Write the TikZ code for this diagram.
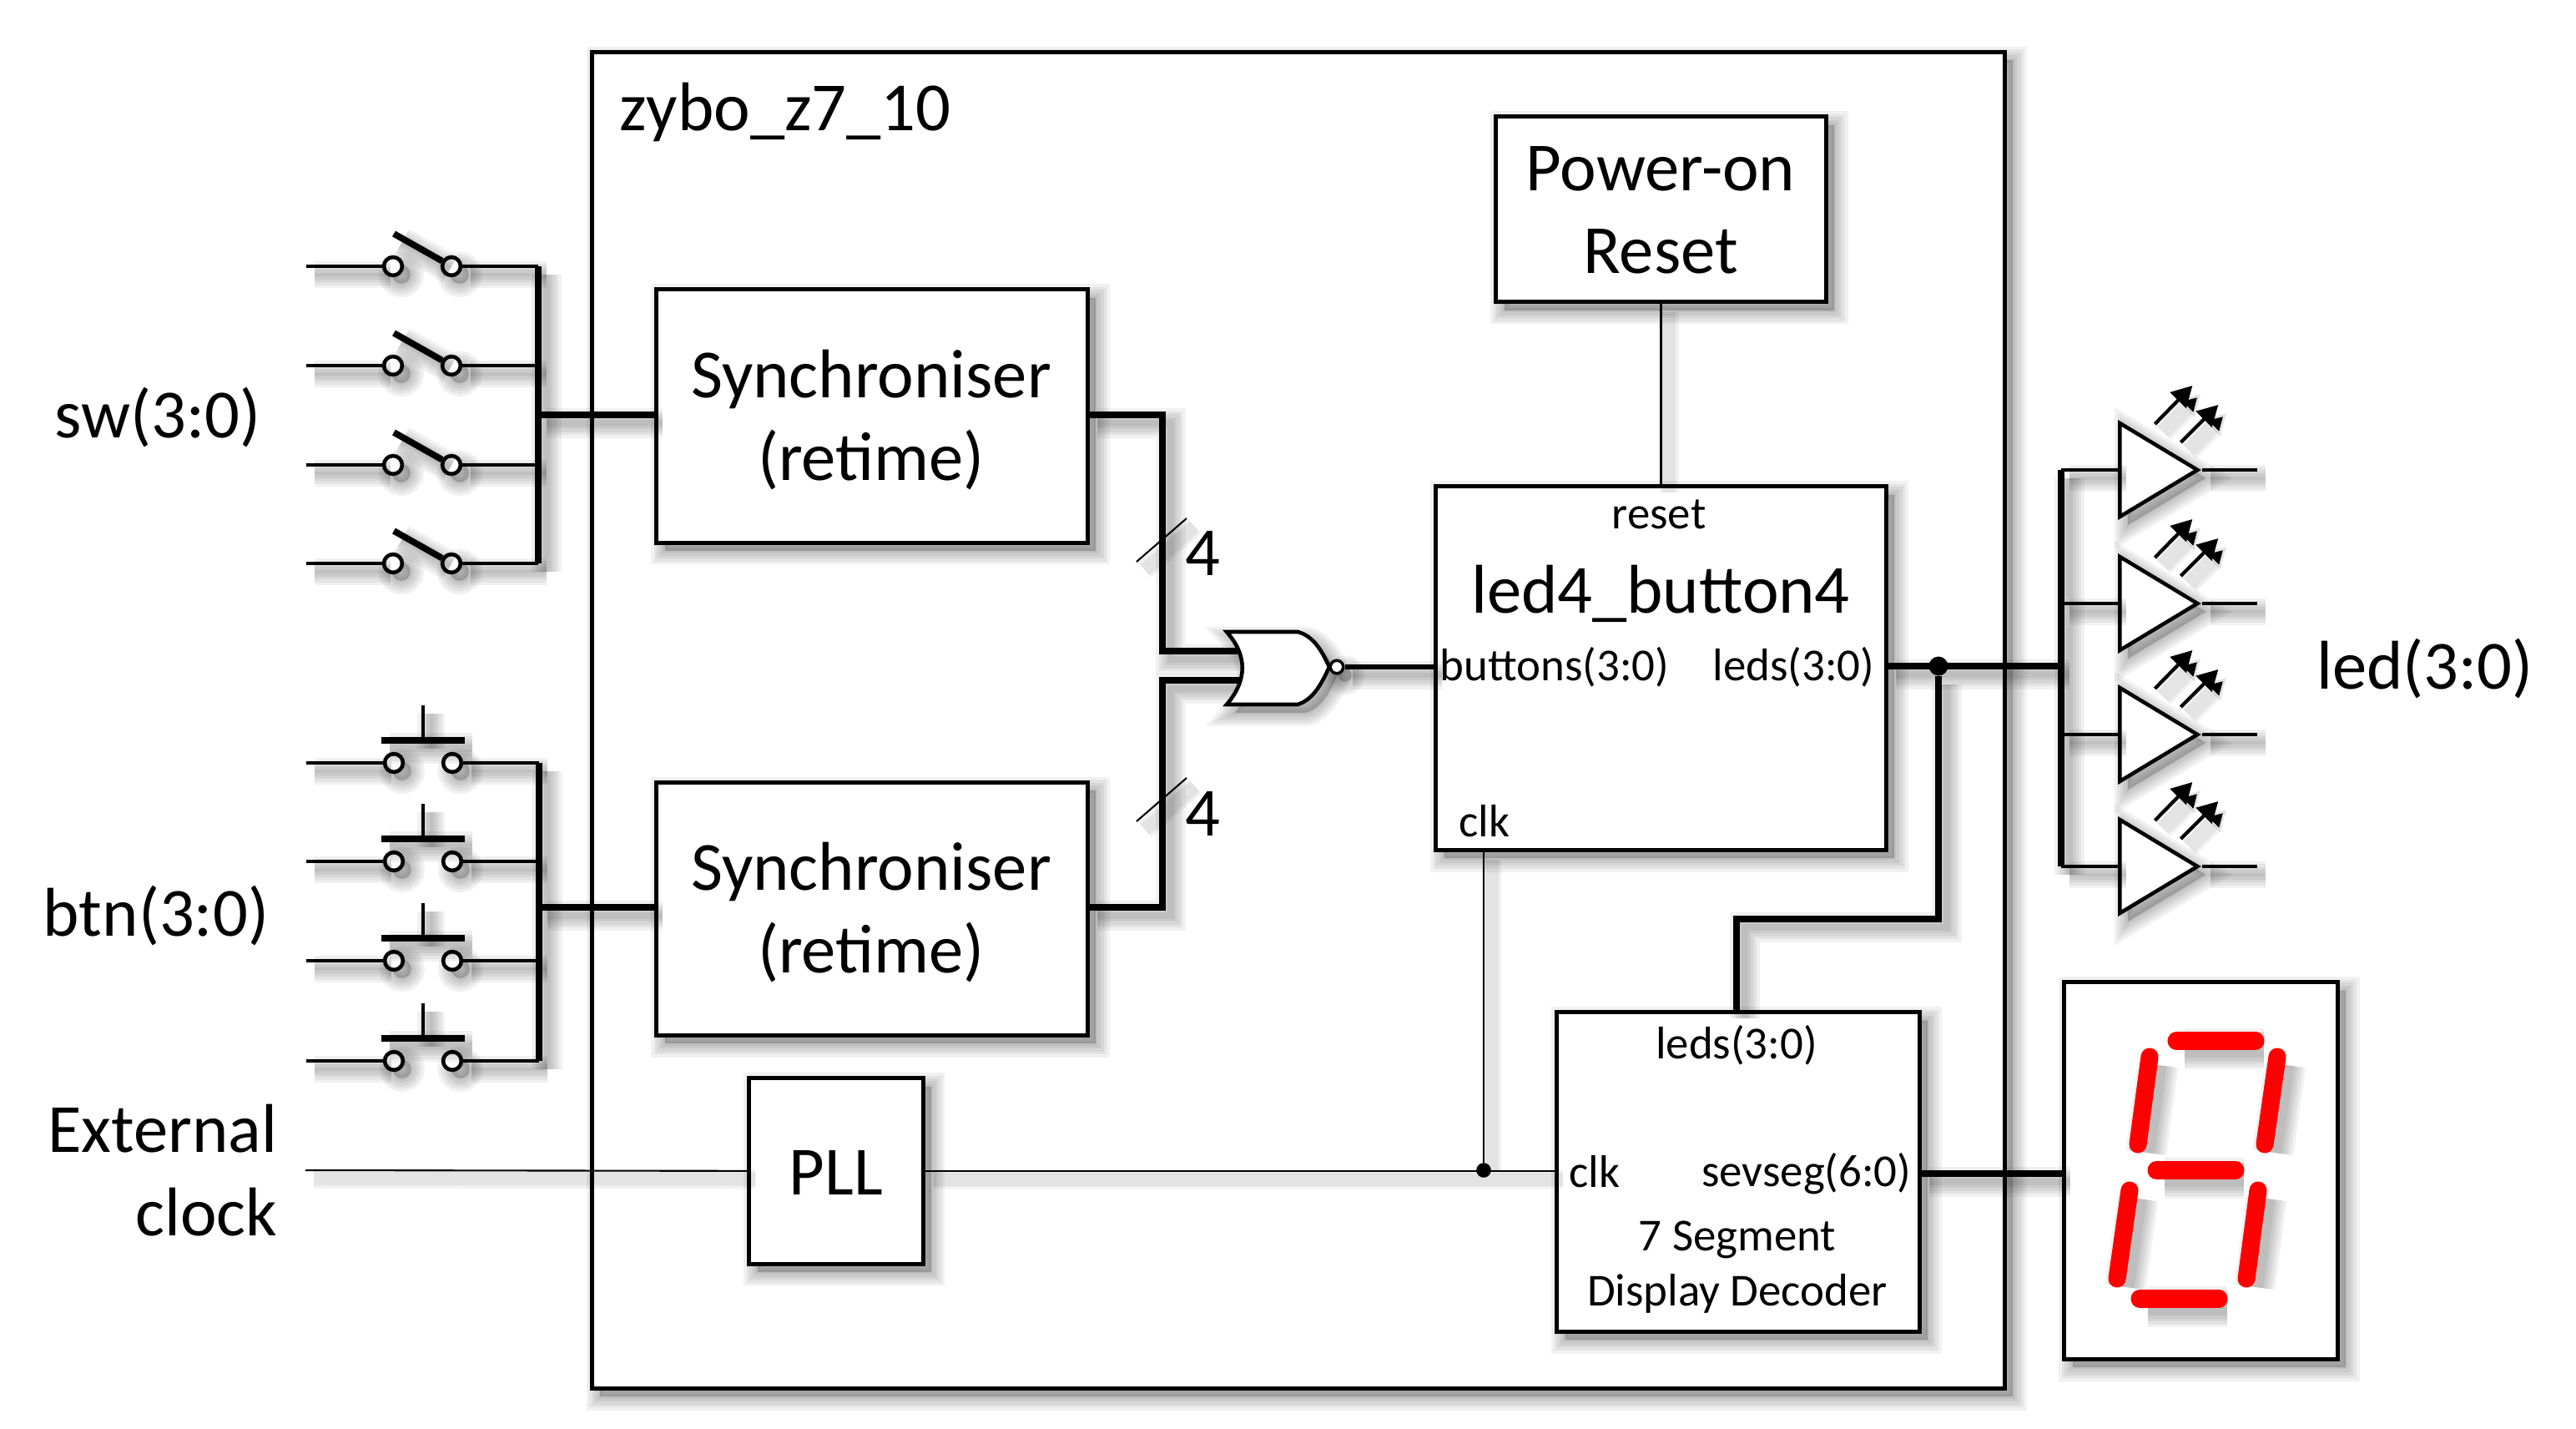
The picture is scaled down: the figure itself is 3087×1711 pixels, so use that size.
\documentclass[tikz,border=0pt]{standalone}
\usepackage{fontspec}
\setmainfont{Carlito}
\usepackage{tikz}
\usetikzlibrary{shapes.geometric,arrows.meta,positioning}

\tikzset{
    shadowlayer/.style={preaction={draw=black, draw opacity=.055, line width=\pgflinewidth+#1, transform canvas={shift={(2.8pt,-2.8pt)}}}},
    softshadow/.style={shadowlayer=4pt, shadowlayer=3pt, shadowlayer=2pt, shadowlayer=1pt, shadowlayer=0pt},
    faintshadow/.style={shadowlayer=3pt, shadowlayer=2pt},
    boxshadow/.style={
        preaction={fill=black, fill opacity=.2, transform canvas={shift={(2.8pt,-2.8pt)}}},
        softshadow
    }
}

\begin{document}
\begin{tikzpicture}[
    x=0.01cm, y=-0.01cm,
    bigtext/.style={font=\fontsize{23.5}{28.2}\selectfont, align=center, inner sep=0pt},
    smalltext/.style={font=\fontsize{15.6}{18.8}\selectfont, align=center, inner sep=0pt},
    block/.style={rectangle, draw, fill=white, line width=1.4pt, boxshadow},
    contact/.style={circle, draw, fill=white, line width=1.3pt, minimum size=6.2pt, inner sep=0pt, boxshadow},
    ledtri/.style={isosceles triangle, isosceles triangle stretches, shape border rotate=0, draw, fill=white,
        line width=1.3pt, minimum width=1.12cm, minimum height=.93cm, inner sep=0pt, anchor=lower side, boxshadow},
    wire/.style={draw, line width=1.3pt, softshadow},
    bus/.style={draw, line width=2.1pt, softshadow},
    thinwire/.style={draw, line width=.6pt, faintshadow},
    lever/.style={draw, line width=2.2pt, softshadow},
    ray/.style={draw, line width=1.2pt, faintshadow, -{Triangle[length=7pt,width=7.5pt]}},
    segment/.style={draw=red, line width=6pt, line cap=round, softshadow},
    junction/.style={circle, fill=black, minimum size=5pt, inner sep=0pt}
]
    \useasboundingbox (0,0) rectangle (3087,1711);

    % board outline and blocks
    \node [block, minimum width=16.92cm, minimum height=16.00cm] (board) at (1556,863) {};
    \node [bigtext, anchor=west] (boardname) at (742,134) {zybo\_z7\_10};
    \node [block, minimum width=5.16cm, minimum height=3.03cm] (sync1) at (1045,498.5) {};
    \node [block, minimum width=5.16cm, minimum height=3.03cm, below=2.82cm of sync1] (sync2) {};
    \node [block, minimum width=5.39cm, minimum height=4.35cm] (led4) at (1990.5,800.5) {};
    \node [block, minimum width=3.95cm, minimum height=2.22cm, above=2.16cm of led4] (por) {};
    \node [block, minimum width=2.08cm, minimum height=2.22cm] (pll) at (1002,1403) {};
    \node [block, minimum width=4.34cm, minimum height=3.82cm] (decoder) at (2083,1404) {};
    \node [block, minimum width=3.27cm, minimum height=4.51cm] (display) at (2637.5,1402.5) {};

    % labels on the blocks
    \node [bigtext] (sync1name) at (1044,503) {Synchroniser\\(retime)};
    \node [bigtext] (sync2name) at (1044,1093) {Synchroniser\\(retime)};
    \node [bigtext] (porname) at (1990,252) {Power-on\\Reset};
    \node [bigtext] (pllname) at (1002,1405) {PLL};
    \node [bigtext] (led4name) at (1990,711) {led4\_button4};
    \node [smalltext] (led4reset) at (1988,616) {reset};
    \node [smalltext, anchor=west] (led4btn) at (1725,799) {buttons(3:0)};
    \node [smalltext, anchor=east] (led4leds) at (2247,799) {leds(3:0)};
    \node [smalltext, anchor=west] (led4clk) at (1748,984) {clk};
    \node [smalltext] (decleds) at (2081,1252) {leds(3:0)};
    \node [smalltext, anchor=west] (decclk) at (1880,1404) {clk};
    \node [smalltext, anchor=east] (decseg) at (2291,1406) {sevseg(6:0)};
    \node [smalltext] (decname) at (2082,1518) {7 Segment\\Display Decoder};

    % outside labels
    \node [bigtext] (swname) at (189,500) {sw(3:0)};
    \node [bigtext] (btnname) at (187,1097) {btn(3:0)};
    \node [bigtext, align=right, anchor=east] (clkname) at (333,1402) {External\\clock};
    \node [bigtext] (ledname) at (2906,801) {led(3:0)};
    \node [bigtext] (width1) at (1441,663) {4};
    \node [bigtext] (width2) at (1441,975) {4};

    % slide switches
    \coordinate (swbustop) at (645,319);
    \coordinate (swbusbot) at (645,675);
    \foreach \n/\y in {1/319,2/438,3/557,4/675} {
        \coordinate (swin\n) at (367,\y);
        \coordinate (swtap\n) at (645,\y);
        \node [contact] (swa\n) at (471,\y) {};
        \node [contact] (swb\n) at (541,\y) {};
        \draw [wire] (swin\n) -- (swa\n);
        \draw [wire] (swb\n) -- (swtap\n);
        \draw [lever] (swb\n) -- ++(-69,-39);
    }
    \draw [bus] (swbustop) -- (swbusbot);
    \coordinate (swmid) at (645,497);
    \draw [bus] (swmid) -- (sync1.west |- swmid);

    % push buttons
    \coordinate (btnbustop) at (646,914);
    \coordinate (btnbusbot) at (646,1271);
    \foreach \n/\y in {1/914,2/1032,3/1151,4/1271} {
        \coordinate (btnin\n) at (367,\y);
        \coordinate (btntap\n) at (646,\y);
        \node [contact] (btna\n) at (472,\y) {};
        \node [contact] (btnb\n) at (542,\y) {};
        \draw [wire] (btnin\n) -- (btna\n);
        \draw [wire] (btnb\n) -- (btntap\n);
        \coordinate (btnbar\n) at (507,\y-27);
        \draw [draw, line width=2.5pt, softshadow] ([xshift=-.495cm]btnbar\n) -- ([xshift=.495cm]btnbar\n);
        \draw [wire] (btnbar\n) -- ++(0,-42);
    }
    \draw [bus] (btnbustop) -- (btnbusbot);
    \coordinate (btnmid) at (646,1087);
    \draw [bus] (btnmid) -- (sync2.west |- btnmid);

    % NOR gate
    \coordinate (norin1) at (1485,780);
    \coordinate (norin2) at (1485,815);
    \coordinate (syncjoin1) at (1393,780);
    \coordinate (syncjoin2) at (1393,815);
    \draw [bus] (sync1.east |- swmid) -| (syncjoin1) -- (norin1);
    \draw [bus] (sync2.east |- btnmid) -| (syncjoin2) -- (norin2);
    \draw [draw, fill=white, line width=1.3pt, boxshadow] (1470,757) -- (1555,757)
        .. controls (1575,762) and (1585,782) .. (1593,799)
        .. controls (1585,816) and (1575,838) .. (1555,844) -- (1470,844)
        .. controls (1495,815) and (1495,785) .. (1470,757) -- cycle;
    \node [contact, minimum size=4.4pt, line width=1pt] (norout) at (1602,799) {};
    \draw [wire, line width=1.6pt] (norout) -- (led4.west |- norout);

    \coordinate (tick1) at (1392,647);
    \coordinate (tick2) at (1392,958);
    \draw [thinwire] ([shift={(-30,26)}]tick1) -- ([shift={(30,-26)}]tick1);
    \draw [thinwire] ([shift={(-30,26)}]tick2) -- ([shift={(30,-26)}]tick2);

    % reset and clock
    \draw [thinwire] (por) -- (por |- led4.north);
    \coordinate (clkin) at (366,1402);
    \draw [thinwire] (clkin) -- (pll);
    \draw [thinwire] (pll) -- (decoder.west |- pll);
    \node [junction] (clkdot) at (1778,1402) {};
    \draw [thinwire] (clkdot) -- (clkdot |- led4.south);

    % led outputs
    \node [junction, minimum size=6.5pt] (leddot) at (2323,798) {};
    \coordinate (ledbus) at (2470,798);
    \draw [bus] (led4.east |- leddot) -- (ledbus);
    \coordinate (decturn) at (2081,1101);
    \draw [bus] (leddot) |- (decturn) -- (decturn |- decoder.north);
    \coordinate (ledbustop) at (2470,563);
    \coordinate (ledbusbot) at (2470,1038);
    \draw [bus] (ledbustop) -- (ledbusbot);
    \foreach \n/\y in {1/563,2/723,3/880,4/1038} {
        \node [ledtri] (tri\n) at (2538,\y) {};
        \coordinate (triout\n) at (2705,\y);
        \draw [wire] (tri\n.lower side) -- (ledbus |- tri\n.lower side);
        \draw [wire] (tri\n.apex) -- (triout\n);
        \draw [ray] ([shift={(-57,-55)}]tri\n.apex) -- ++(45,-46);
        \draw [ray] ([shift={(-26,-33)}]tri\n.apex) -- ++(45,-45);
    }

    % seven segment display
    \draw [bus] (decoder.east |- decseg) -- (display.west |- decseg);
    \draw [segment] (2608,1247) -- (2703,1247);
    \draw [segment] (2576,1266) -- (2562,1371);
    \draw [segment] (2729,1266) -- (2714,1371);
    \draw [segment] (2584,1402) -- (2679,1402);
    \draw [segment] (2552,1426) -- (2537,1532);
    \draw [segment] (2706,1426) -- (2692,1532);
    \draw [segment] (2564,1556) -- (2659,1556);
\end{tikzpicture}
\end{document}
